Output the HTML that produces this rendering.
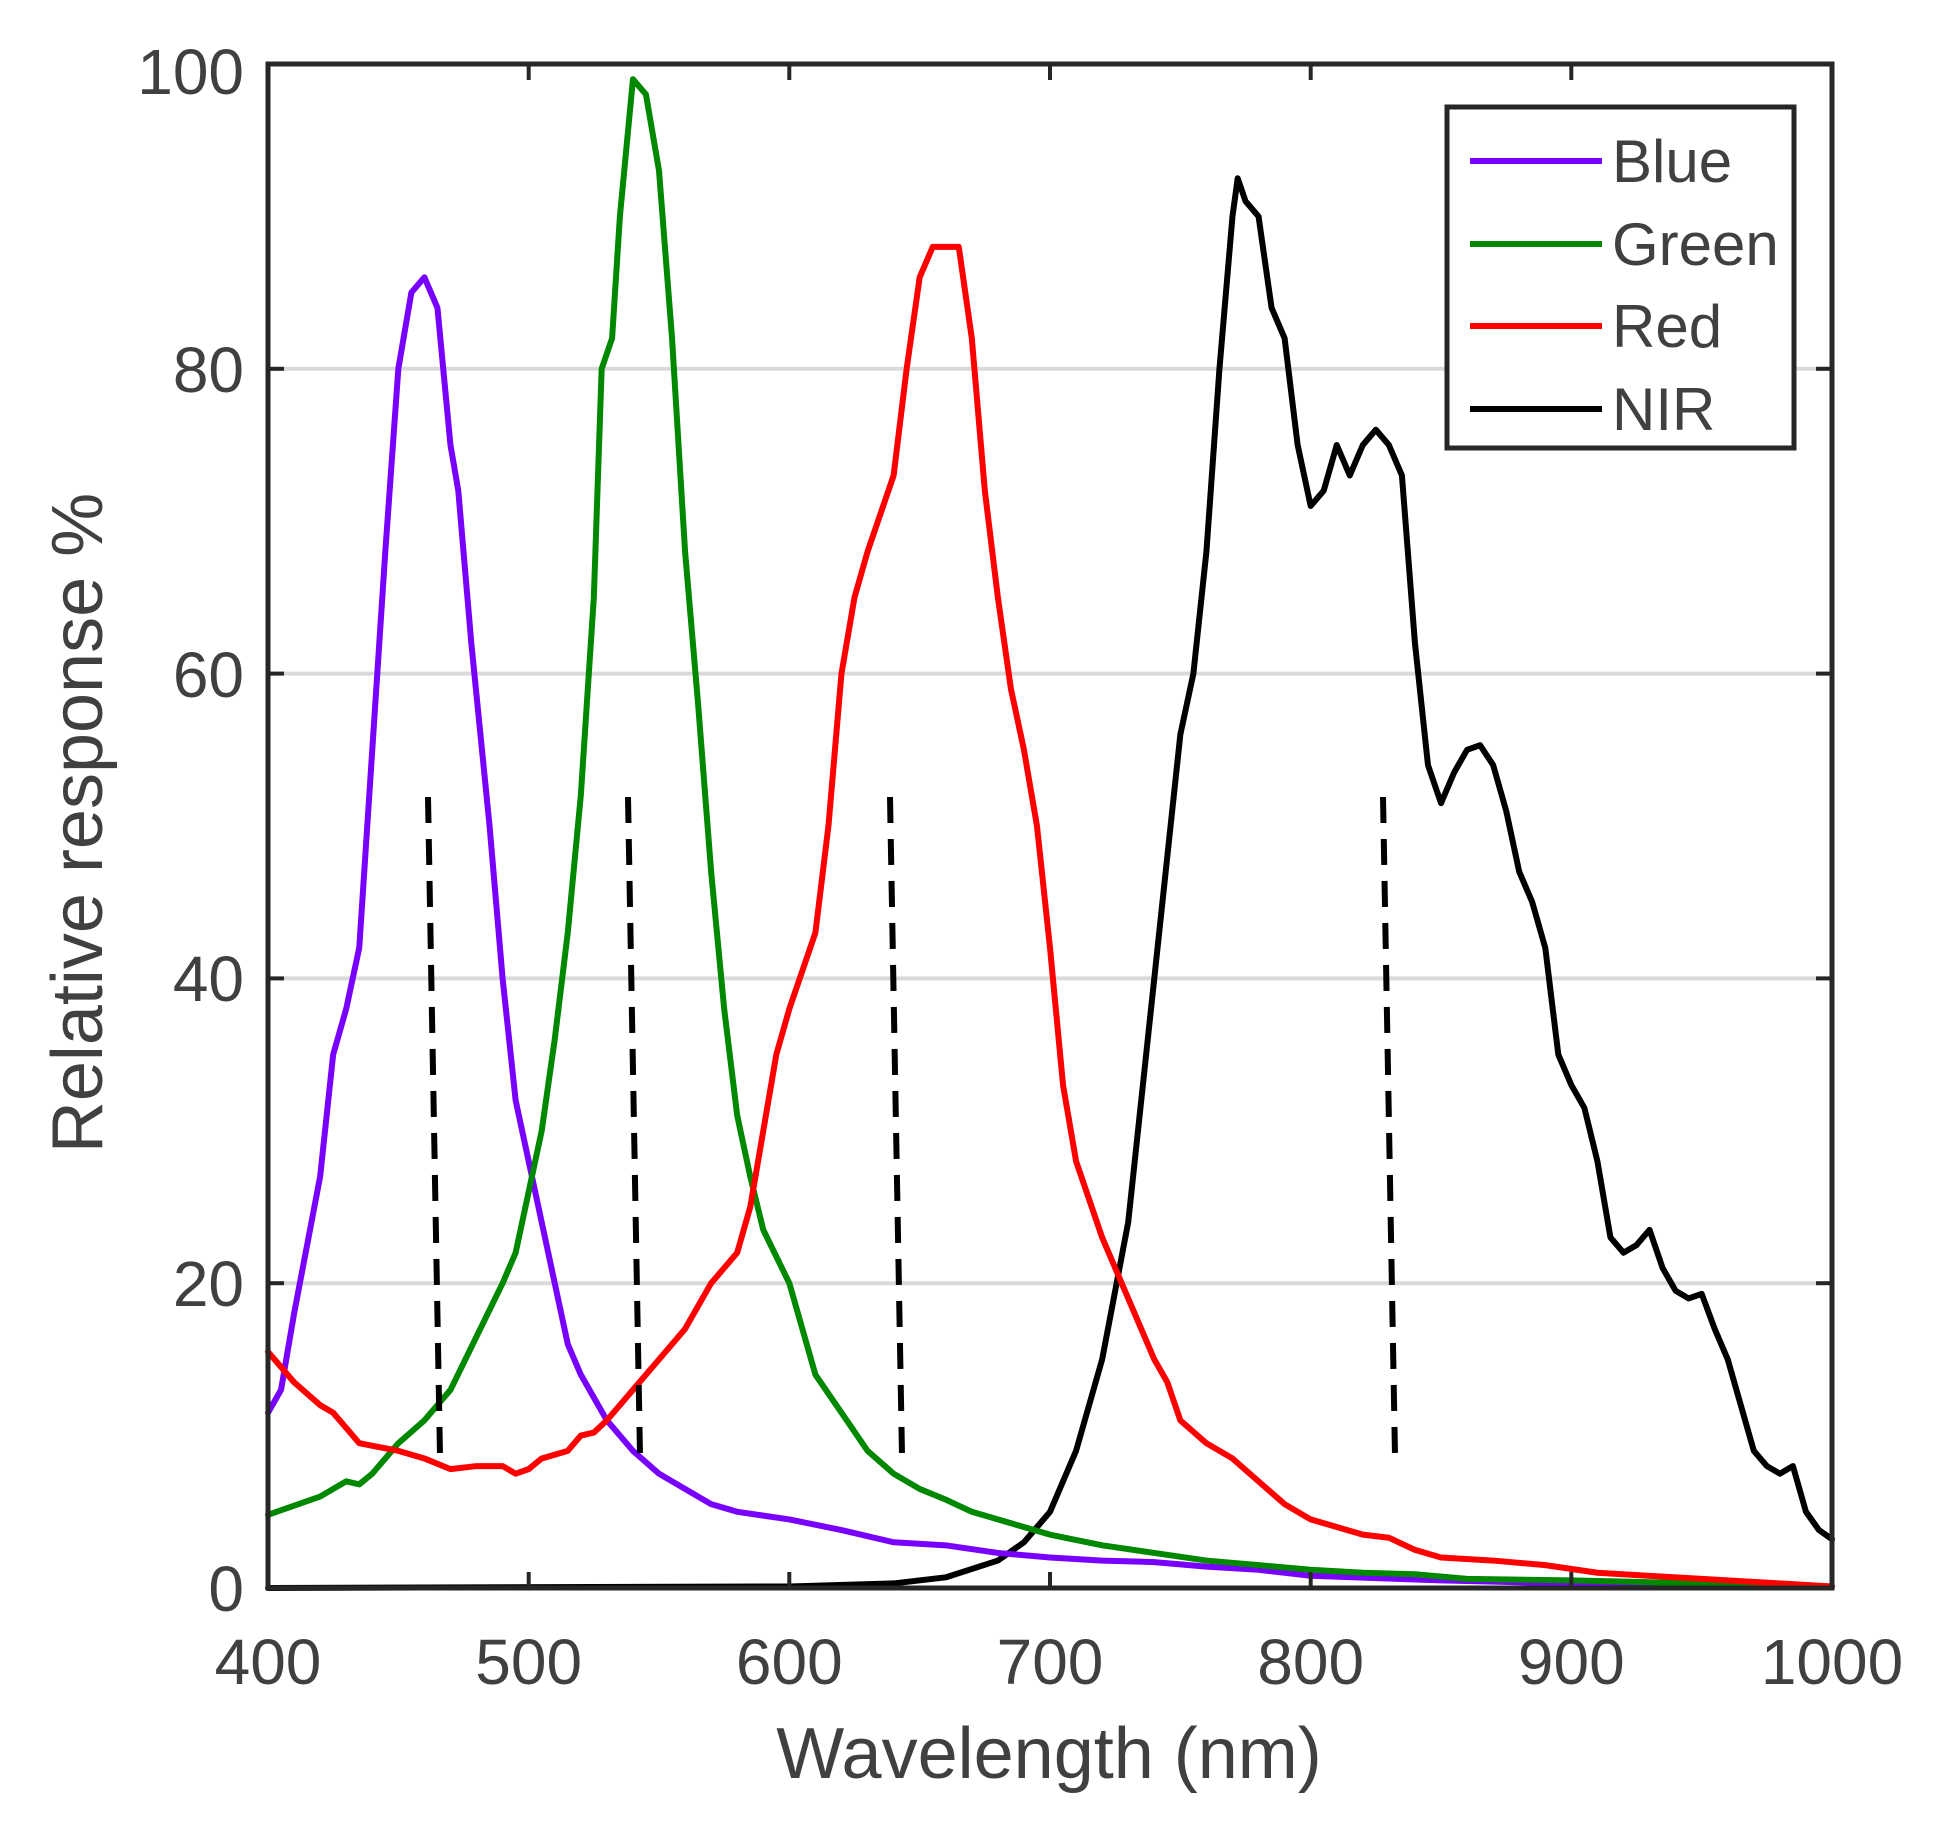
<!DOCTYPE html>
<html><head><meta charset="utf-8"><style>
html,body{margin:0;padding:0;background:#fff;}
svg{display:block;}
text{font-family:"Liberation Sans",Arial,sans-serif;fill:#404040;}
</style></head><body>
<svg width="1938" height="1833" viewBox="0 0 1938 1833" xmlns="http://www.w3.org/2000/svg">
<g stroke="#d9d9d9" stroke-width="4">
<line x1="268" x2="1832" y1="1283.2" y2="1283.2"/>
<line x1="268" x2="1832" y1="978.4" y2="978.4"/>
<line x1="268" x2="1832" y1="673.6" y2="673.6"/>
<line x1="268" x2="1832" y1="368.8" y2="368.8"/>
</g>
<g fill="none" stroke-linejoin="round" stroke-linecap="round" transform="translate(268,1588) scale(2.6067,-15.24) translate(-400,0)">
<polyline vector-effect="non-scaling-stroke" stroke="#000" stroke-width="6" points="400,0 600,0.1 640,0.3 660,0.7 680,1.8 690,3 700,5 710,9 720,15 730,24 735,32 740,40 745,48 750,56 755,60 760,68 765,80 770,90 772,92.5 775,91 780,90 785,84 790,82 795,75 800,71 805,72 810,75 815,73 820,75 825,76 830,75 835,73 840,62 845,54 850,51.5 855,53.5 860,55 865,55.3 870,54 875,51 880,47 885,45 890,42 895,35 900,33 905,31.5 910,28 915,23 920,22 925,22.5 930,23.5 935,21 940,19.5 945,19 950,19.3 955,17 960,15 965,12 970,9 975,8 980,7.5 985,8 990,5 995,3.8 1000,3.2"/>
<polyline vector-effect="non-scaling-stroke" stroke="#7700ff" stroke-width="6" points="400,11.5 405,13 410,18 420,27 425,35 430,38 435,42 440,55 445,68 450,80 455,85 460,86 465,84 470,75 473,72 478,62 485,50 490,40 495,32 500,28 505,24 510,20 515,16 520,14 525,12.5 530,11 540,9 550,7.5 560,6.5 570,5.5 580,5 600,4.5 620,3.8 640,3 660,2.8 680,2.3 700,2 720,1.8 740,1.7 760,1.4 780,1.2 800,0.8 850,0.5 900,0.3 1000,0.1"/>
<polyline vector-effect="non-scaling-stroke" stroke="#008800" stroke-width="6" points="400,4.8 420,6 430,7 435,6.8 440,7.5 450,9.5 460,11 470,13 480,16.5 490,20 495,22 500,26 505,30 510,36 515,43 520,52 525,65 528,80 532,82 535,90 540,99 545,98 550,93 555,82 560,68 565,58 570,47 575,38 580,31 585,27 590,23.5 600,20 605,17 610,14 620,11.5 630,9 640,7.5 650,6.5 660,5.8 670,5 680,4.5 700,3.5 720,2.8 740,2.3 760,1.8 780,1.5 800,1.2 820,1 840,0.9 860,0.6 900,0.5 1000,0.1"/>
<polyline vector-effect="non-scaling-stroke" stroke="#ff0000" stroke-width="6" points="400,15.5 410,13.5 420,12 425,11.5 430,10.5 435,9.5 450,9 460,8.5 470,7.8 480,8 490,8 495,7.5 500,7.8 505,8.5 515,9 520,10 525,10.2 530,11 540,13 550,15 560,17 570,20 580,22 585,25 590,30 595,35 600,38 610,43 615,50 620,60 625,65 630,68 640,73 645,80 650,86 655,88 660,88 665,88 670,82 675,72 680,65 685,59 690,55 695,50 700,42 705,33 710,28 720,23 730,19 740,15 745,13.5 750,11 760,9.5 770,8.5 780,7 790,5.5 800,4.5 810,4 820,3.5 830,3.3 840,2.5 850,2 870,1.8 890,1.5 910,1 950,0.6 980,0.3 1000,0.1"/>
</g>
<g stroke="#000" stroke-width="6" stroke-dasharray="26,16">
<line x1="428" y1="797" x2="440" y2="1455"/>
<line x1="628" y1="797" x2="640" y2="1455"/>
<line x1="890" y1="797" x2="902" y2="1455"/>
<line x1="1383" y1="797" x2="1395" y2="1455"/>
</g>
<rect x="268" y="64" width="1564" height="1524" fill="none" stroke="#262626" stroke-width="5"/>
<g stroke="#262626" stroke-width="4">
<line x1="528.7" x2="528.7" y1="1588" y2="1572"/><line x1="789.3" x2="789.3" y1="1588" y2="1572"/><line x1="1050" x2="1050" y1="1588" y2="1572"/><line x1="1310.7" x2="1310.7" y1="1588" y2="1572"/><line x1="1571.3" x2="1571.3" y1="1588" y2="1572"/>
<line x1="528.7" x2="528.7" y1="64" y2="80"/><line x1="789.3" x2="789.3" y1="64" y2="80"/><line x1="1050" x2="1050" y1="64" y2="80"/><line x1="1310.7" x2="1310.7" y1="64" y2="80"/><line x1="1571.3" x2="1571.3" y1="64" y2="80"/>
<line x1="268" x2="284" y1="1283.2" y2="1283.2"/><line x1="268" x2="284" y1="978.4" y2="978.4"/><line x1="268" x2="284" y1="673.6" y2="673.6"/><line x1="268" x2="284" y1="368.8" y2="368.8"/>
<line x1="1832" x2="1816" y1="1283.2" y2="1283.2"/><line x1="1832" x2="1816" y1="978.4" y2="978.4"/><line x1="1832" x2="1816" y1="673.6" y2="673.6"/><line x1="1832" x2="1816" y1="368.8" y2="368.8"/>
</g>
<g font-size="64" text-anchor="end">
<text x="244" y="1611">0</text><text x="244" y="1306">20</text><text x="244" y="1001">40</text><text x="244" y="697">60</text><text x="244" y="392">80</text><text x="244" y="94">100</text>
</g>
<g font-size="64" text-anchor="middle">
<text x="268" y="1684">400</text><text x="528.7" y="1684">500</text><text x="789.3" y="1684">600</text><text x="1050" y="1684">700</text><text x="1310.7" y="1684">800</text><text x="1571.3" y="1684">900</text><text x="1832" y="1684">1000</text>
</g>
<text x="1049" y="1778" font-size="72" text-anchor="middle">Wavelength (nm)</text>
<text transform="translate(102,823) rotate(-90)" font-size="72" text-anchor="middle">Relative response %</text>
<rect x="1447" y="107" width="347" height="341" fill="#fff" stroke="#262626" stroke-width="5"/>
<g stroke-width="6">
<line x1="1470" x2="1602" y1="161" y2="161" stroke="#7700ff"/>
<line x1="1470" x2="1602" y1="244" y2="244" stroke="#008800"/>
<line x1="1470" x2="1602" y1="326" y2="326" stroke="#ff0000"/>
<line x1="1470" x2="1602" y1="409" y2="409" stroke="#000"/>
</g>
<g font-size="60" style="fill:#262626">
<text x="1612" y="182">Blue</text><text x="1612" y="265">Green</text><text x="1612" y="347">Red</text><text x="1612" y="430">NIR</text>
</g>
</svg>
</body></html>
